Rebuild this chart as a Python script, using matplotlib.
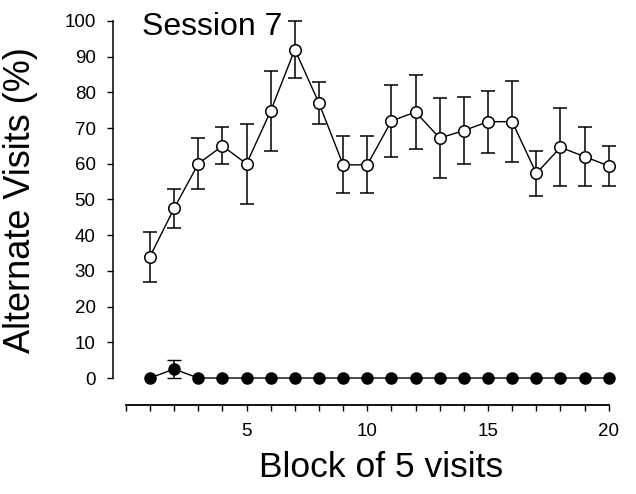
import matplotlib
matplotlib.use("Agg")
import matplotlib.pyplot as plt
import numpy as np

plt.rcParams['font.family'] = ['Liberation Sans', 'DejaVu Sans']

blocks = list(range(1, 21))
open_mean = [34, 47.5, 60, 65, 60, 74.8, 92, 77, 59.7, 59.7,
             72, 74.5, 67.2, 69.3, 71.8, 71.8, 57.3, 64.6, 62, 59.4]
open_err = [7, 5.5, 7.1, 5.2, 11.2, 11.1, 8, 5.9, 8, 8,
            10.2, 10.3, 11.1, 9.5, 8.7, 11.4, 6.3, 10.9, 8.3, 5.5]
filled_mean = [0, 2.5, 0, 0, 0, 0, 0, 0, 0, 0,
               0, 0, 0, 0, 0, 0, 0, 0, 0, 0]
filled_err = [0, 2.5, 0, 0, 0, 0, 0, 0, 0, 0,
              0, 0, 0, 0, 0, 0, 0, 0, 0, 0]
yticks = list(range(0, 101, 10))
xticks_all = list(range(0, 21))
xtick_labels = ['' if (t % 5 or t == 0) else str(t) for t in xticks_all]

fig = plt.figure(figsize=(6.36, 4.94), dpi=100)
ax = fig.add_axes([113/636, (494-405)/494, (616-113)/636, (405-17.4)/494])

eb_kw = dict(color='black', ecolor='black', elinewidth=1.1, capsize=4.8,
             capthick=1.4, lw=1.0)
ax.errorbar(blocks, filled_mean, yerr=[[e if e > 0 else np.nan for e in filled_err],
                                       [e if e > 0 else np.nan for e in filled_err]],
            marker='o', ms=8, mfc='black', mec='black', mew=1.0, zorder=3, **eb_kw)
ax.errorbar(blocks, open_mean, yerr=open_err, marker='o', ms=8.3, mfc='white',
            mec='black', mew=1.1, zorder=4, **eb_kw)

ax.set_xlim(-0.53, 20.3)
ax.set_ylim(-7.56, 101.0)
for s in ['top', 'right']:
    ax.spines[s].set_visible(False)
ax.spines['left'].set_bounds(0, 100)
ax.spines['bottom'].set_bounds(0, 20)
ax.spines['left'].set_linewidth(1.1)
ax.spines['bottom'].set_linewidth(1.3)

ax.set_yticks(yticks)
ax.set_yticklabels([str(t) for t in yticks])
ax.set_xticks(xticks_all)
ax.set_xticklabels(xtick_labels)
ax.tick_params(axis='y', direction='out', length=4.5, width=1.0, pad=8, labelsize=13.5)
ax.tick_params(axis='x', direction='out', length=4, width=1.0, pad=9, labelsize=13.5)

fig.text(142/636, (494-35)/494, 'Session 7', fontsize=23, ha='left', va='baseline')
fig.text(381/636, (494-477)/494, 'Block of 5 visits', fontsize=25.5, ha='center', va='baseline')
fig.text(21/636, (494-200)/494, 'Alternate Visits (%)', fontsize=26, rotation=90,
         ha='center', va='center')

fig.savefig('out.png', dpi=100)
